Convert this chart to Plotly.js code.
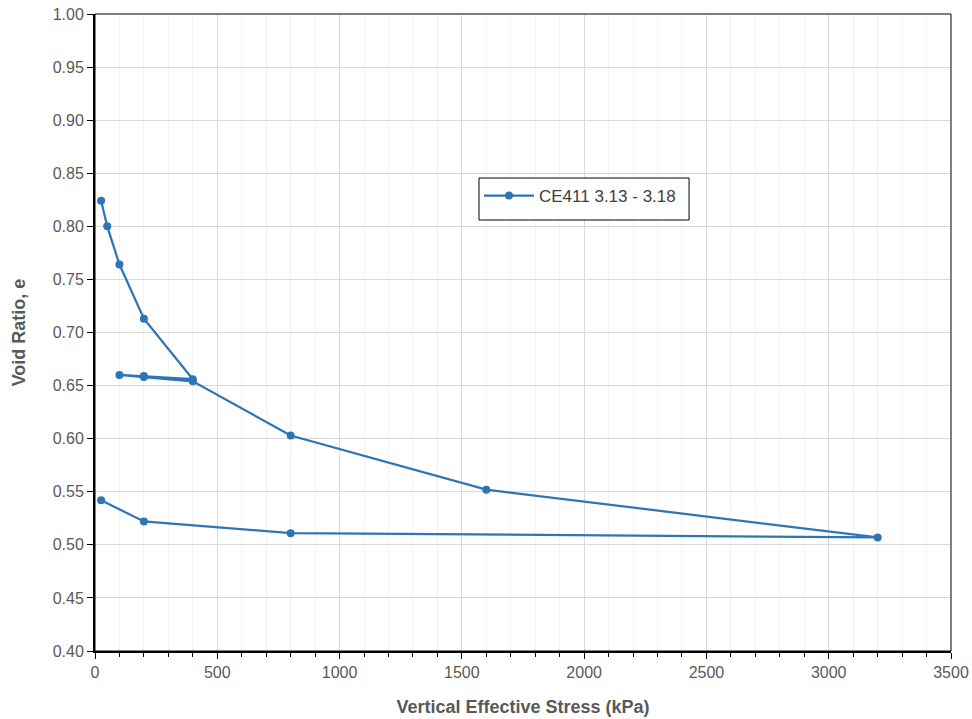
<!DOCTYPE html>
<html>
<head>
<meta charset="utf-8">
<script src="https://cdn.plot.ly/plotly-3.0.1.min.js"></script>
<style>html,body{margin:0;padding:0;background:#fff;}#chart{width:972px;height:719px;}</style>
</head>
<body>
<div id="chart"></div>
<script>
const seriesName = "CE411 3.13 - 3.18";
const stress = [25, 50, 100, 200, 400, 200, 100, 200, 400, 800, 1600, 3200, 800, 200, 25];
const voidRatio = [0.824, 0.800, 0.764, 0.713, 0.656, 0.659, 0.660, 0.658, 0.654, 0.603, 0.552, 0.507, 0.511, 0.522, 0.542];
const xTitle = "Vertical Effective Stress (kPa)";
const yTitle = "Void Ratio, e";

const trace = {
  x: stress, y: voidRatio, name: seriesName, type: 'scatter', mode: 'lines+markers',
  line: {color: '#2e75b6', width: 2.25},
  marker: {color: '#2e75b6', size: 8},
  showlegend: true
};
const fontFam = '"Liberation Sans", Arial, sans-serif';
const layout = {
  width: 972, height: 719,
  margin: {l: 95, r: 21, t: 14, b: 68},
  paper_bgcolor: '#fff', plot_bgcolor: '#fff',
  font: {family: fontFam, color: '#595959', size: 16},
  showlegend: true,
  legend: {x: 0.4486, y: 0.7425, xanchor: 'left', yanchor: 'top', borderwidth: 0,
           bgcolor: 'rgba(0,0,0,0)', font: {size: 17, color: '#404040'}, itemwidth: 50,
           valign: 'middle'},
  xaxis: {
    range: [0, 3500], dtick: 500, tick0: 0, showgrid: true, gridcolor: '#d9d9d9', gridwidth: 1,
    zeroline: false, showline: true, linecolor: '#000', linewidth: 2,
    ticks: 'outside', ticklen: 6, tickcolor: '#000',
    minor: {dtick: 100, tick0: 0, ticks: 'outside', ticklen: 4, tickcolor: '#000', showgrid: true, gridcolor: '#f2f2f2'},
    title: {text: xTitle, font: {size: 18, color: '#595959', weight: 'bold'}, standoff: 20},
    automargin: false
  },
  yaxis: {
    range: [0.40, 1.00], dtick: 0.05, tick0: 0.4, tickformat: '.2f', showgrid: true, gridcolor: '#d9d9d9',
    zeroline: false, showline: true, linecolor: '#000', linewidth: 2,
    ticks: 'outside', ticklen: 6, tickcolor: '#000',
    title: {text: yTitle, font: {size: 18, color: '#595959', weight: 'bold'}, standoff: 22},
    automargin: false
  },
  shapes: [
    {type: 'rect', xref: 'paper', yref: 'paper', x0: 0, x1: 1, y0: 0, y1: 1, line: {color: '#000', width: 1}},
    {type: 'rect', xref: 'paper', yref: 'paper', x0: 0.4486, x1: 0.694, y0: 0.6766, y1: 0.7425,
     fillcolor: '#fff', line: {color: '#000', width: 1}, layer: 'above'}
  ]
};
Plotly.newPlot('chart', [trace], layout, {displayModeBar: false, staticPlot: true});
</script>
</body>
</html>
